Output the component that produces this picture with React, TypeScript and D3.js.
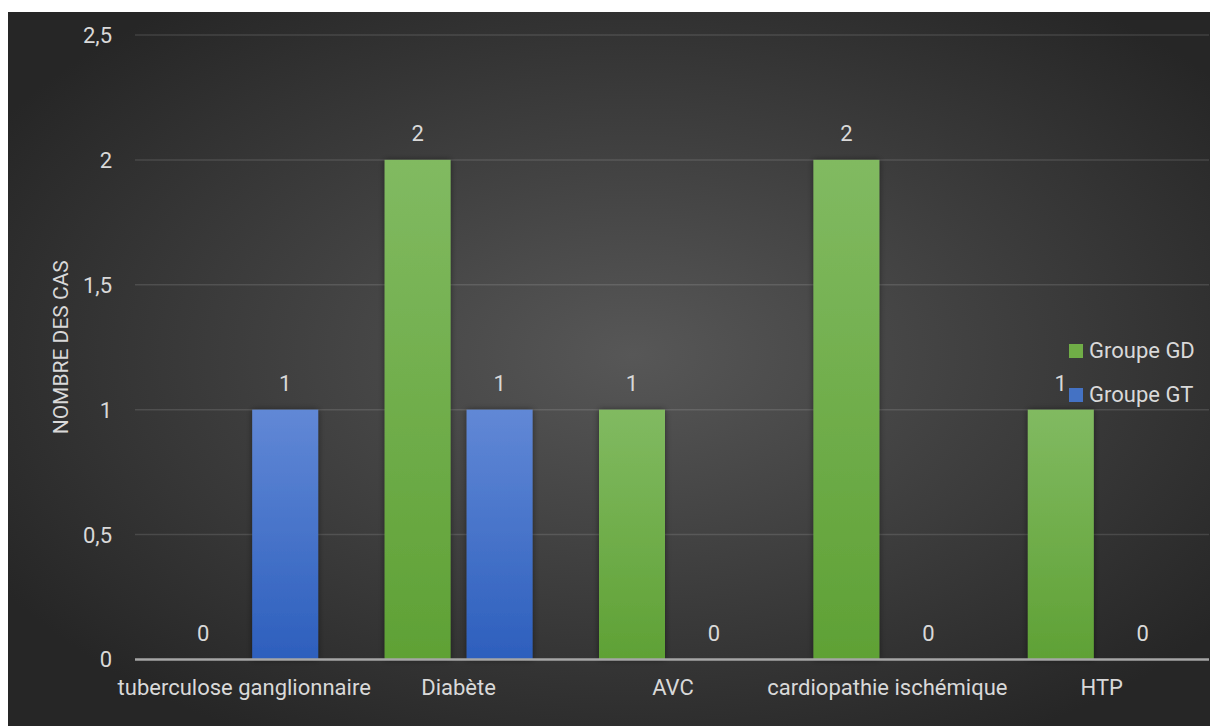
import React from "react";
import * as d3 from "d3";

// Comorbidities by group
const categories = [
  "tuberculose ganglionnaire",
  "Diabète",
  "AVC",
  "cardiopathie ischémique",
  "HTP",
];
const seriesNames = ["Groupe GD", "Groupe GT"];
const groupGD = [0, 2, 1, 2, 1];
const groupGT = [1, 1, 0, 0, 0];
const yTicks = [0, 0.5, 1, 1.5, 2, 2.5];
const yTitle = "NOMBRE DES CAS";

const W = 1210;
const H = 726;
const FONT = "Roboto, 'Liberation Sans', Arial, sans-serif";
const TEXT = "#d9d9d9";

export default function App() {
  const left = 135;
  const right = 1209;
  const top = 35;
  const bottom = 659.5;

  const y = d3.scaleLinear().domain([0, 2.5]).range([bottom, top]);
  const x0 = d3.scaleBand<string>().domain(categories).range([137, right]);
  const x1 = d3
    .scaleBand<string>()
    .domain(seriesNames)
    .range([0, x0.bandwidth()])
    .paddingInner(0.195)
    .paddingOuter(0.405);

  const series = [
    { name: seriesNames[0], values: groupGD, fill: "url(#gradGD)", swatch: "#70ad47" },
    { name: seriesNames[1], values: groupGT, fill: "url(#gradGT)", swatch: "#4472c4" },
  ];

  const fmt = (v: number) => String(v).replace(".", ",");

  return (
    <svg
      width={W}
      height={H}
      style={{ position: "absolute", left: 0, top: 0, display: "block" }}
      fontFamily={FONT}
    >
      <defs>
        <radialGradient id="bg" cx="52%" cy="48%" r="62%">
          <stop offset="0%" stopColor="#575757" />
          <stop offset="100%" stopColor="#262626" />
        </radialGradient>
        <linearGradient id="gradGD" x1="0" y1="0" x2="0" y2="1">
          <stop offset="0%" stopColor="#81ba61" />
          <stop offset="100%" stopColor="#5fa135" />
        </linearGradient>
        <linearGradient id="gradGT" x1="0" y1="0" x2="0" y2="1">
          <stop offset="0%" stopColor="#6188d6" />
          <stop offset="100%" stopColor="#2d5fbd" />
        </linearGradient>
        <filter id="shadow" x="-20%" y="-10%" width="140%" height="120%">
          <feDropShadow dx="0" dy="0" stdDeviation="3" floodColor="#000" floodOpacity="0.45" />
        </filter>
      </defs>

      <rect x={8} y={12} width={W - 8} height={H - 12} fill="url(#bg)" />

      {/* gridlines */}
      {yTicks.filter((t) => t > 0).map((t) => (
        <line
          key={t}
          x1={left}
          x2={right}
          y1={y(t)}
          y2={y(t)}
          stroke="#ffffff"
          strokeOpacity={0.12}
          strokeWidth={1.5}
        />
      ))}

      {/* y tick labels */}
      {yTicks.map((t) => (
        <text
          key={t}
          x={112}
          y={y(t)}
          dy="0.36em"
          textAnchor="end"
          fontSize={22}
          fill={TEXT}
        >
          {fmt(t)}
        </text>
      ))}

      {/* y title */}
      <text
        transform={`translate(68,${(top + bottom) / 2}) rotate(-90)`}
        textAnchor="middle"
        fontSize={21}
        fill={TEXT}
      >
        {yTitle}
      </text>

      {/* bars */}
      {categories.map((c, i) => (
        <g key={c} transform={`translate(${x0(c)},0)`}>
          {series.map((s) => {
            const v = s.values[i];
            const bx = x1(s.name)!;
            const bw = x1.bandwidth();
            return (
              <g key={s.name}>
                {v > 0 && (
                  <rect
                    x={bx}
                    y={y(v)}
                    width={bw}
                    height={y(0) - y(v)}
                    fill={s.fill}
                    filter="url(#shadow)"
                  />
                )}
                <text
                  x={bx + bw / 2}
                  y={y(v) - 18.5}
                  textAnchor="middle"
                  fontSize={22}
                  fill={TEXT}
                >
                  {fmt(v)}
                </text>
              </g>
            );
          })}
        </g>
      ))}

      {/* x axis */}
      <line x1={left} x2={right} y1={y(0)} y2={y(0)} stroke="#a6a6a6" strokeWidth={2.5} />

      {/* category labels */}
      {categories.map((c) => (
        <text
          key={c}
          x={x0(c)! + x0.bandwidth() / 2}
          y={695}
          textAnchor="middle"
          fontSize={22}
          fill={TEXT}
        >
          {c}
        </text>
      ))}

      {/* legend */}
      {series.map((s, i) => (
        <g key={s.name} transform={`translate(1069,${344 + i * 44})`}>
          <rect width={14} height={14} fill={s.swatch} />
          <text x={20} y={14} fontSize={22} fill={TEXT}>
            {s.name}
          </text>
        </g>
      ))}
    </svg>
  );
}
